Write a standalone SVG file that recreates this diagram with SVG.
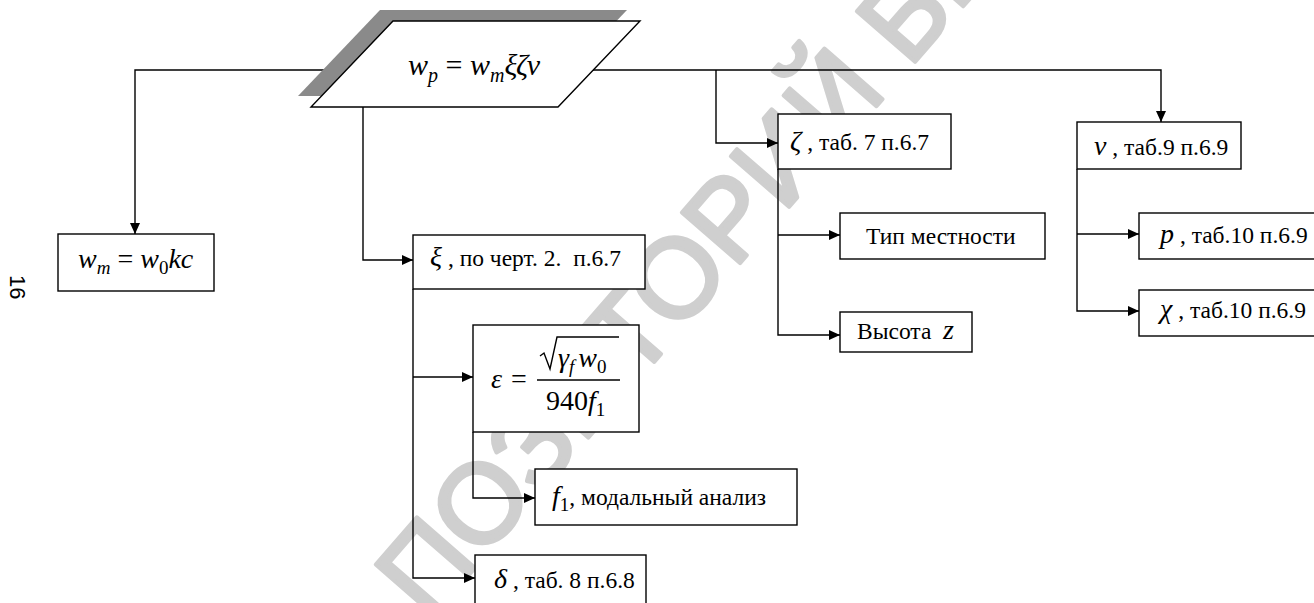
<svg xmlns="http://www.w3.org/2000/svg" width="1314" height="603" viewBox="0 0 1314 603">
<style>
.box{fill:#fff;stroke:#000;stroke-width:1.4}
.ln{fill:none;stroke:#000;stroke-width:1.4}
.t{font-family:"Liberation Serif","Times New Roman",Tinos,Times,"DejaVu Serif",serif;font-size:23.5px;fill:#000}
.m{font-family:"Liberation Serif","Times New Roman",Tinos,Times,"DejaVu Serif",serif;font-size:28px;font-style:italic;fill:#000}
.wm{font-family:"Liberation Sans",Arial,sans-serif;font-size:112px;fill:#cfcfcf;stroke:#cfcfcf;stroke-width:4;stroke-linejoin:round}
</style>
<defs>
<marker id="ar" markerUnits="userSpaceOnUse" markerWidth="12" markerHeight="10" refX="11" refY="5" orient="auto">
<path d="M0,0 L11,5 L0,10 z" fill="#000"/>
</marker>
</defs>
<rect width="1314" height="603" fill="#fff"/>
<text class="wm" transform="translate(428,622) rotate(-49)">ПОЗИТОРИЙ БГ</text>
<text transform="translate(10,275) rotate(90)" font-family="Liberation Sans,Arial,sans-serif" font-size="22" fill="#000">16</text>
<g id="connectors">
<path class="ln" d="M346,70 H135 V234" marker-end="url(#ar)"/>
<path class="ln" d="M593,70 H1161 V122" marker-end="url(#ar)"/>
<path class="ln" d="M716,70 V143 H778" marker-end="url(#ar)"/>
<path class="ln" d="M363,107 V260 H413" marker-end="url(#ar)"/>
<path class="ln" d="M413,289 V578 H475" marker-end="url(#ar)"/>
<path class="ln" d="M413,377 H473" marker-end="url(#ar)"/>
<path class="ln" d="M473,432 V498 H535" marker-end="url(#ar)"/>
<path class="ln" d="M778,169 V335 H840" marker-end="url(#ar)"/>
<path class="ln" d="M778,235 H840" marker-end="url(#ar)"/>
<path class="ln" d="M1077,169 V311 H1139" marker-end="url(#ar)"/>
<path class="ln" d="M1077,234 H1139" marker-end="url(#ar)"/>
</g>
<g id="n-wp">
<polygon points="380,10 627,10 545,96 298,96" fill="#8a8a8a"/>
<polygon class="box" points="393,21 640,21 558,107 311,107"/>
<text class="m" x="408" y="75" style="font-size:30px">w<tspan font-size="20" dy="7">p</tspan><tspan dy="-7" font-style="normal"> = </tspan>w<tspan font-size="20" dy="7">m</tspan><tspan dy="-7">ξζν</tspan></text>
</g>
<g id="n-wm">
<rect class="box" x="58" y="234" width="156" height="57"/>
<text class="m" x="78" y="268">w<tspan font-size="19" dy="6">m</tspan><tspan dy="-6" font-style="normal"> = </tspan>w<tspan font-size="19" dy="6" font-style="normal">0</tspan><tspan dy="-6">kc</tspan></text>
</g>
<g id="n-xi">
<rect class="box" x="413" y="235" width="232" height="54"/>
<text class="t" x="430" y="266"><tspan class="m">ξ</tspan> , по черт. 2.&#160; п.6.7</text>
</g>
<g id="n-eps">
<rect class="box" x="473" y="325" width="166" height="107"/>
<text class="m" x="491" y="388">ε</text>
<text class="t" x="511" y="388" style="font-size:28px">=</text>
<polyline class="ln" points="540,356 544,353 550,369 557,337 619,337"/>
<text class="m" x="558" y="367">γ<tspan font-size="19" dy="6">f</tspan><tspan dy="-6" dx="4">w</tspan><tspan font-size="19" dy="6" font-style="normal">0</tspan></text>
<line class="ln" x1="537" y1="380" x2="620" y2="380"/>
<text class="t" x="546" y="410" style="font-size:28px">940<tspan class="m">f</tspan><tspan font-size="19" dy="6">1</tspan></text>
</g>
<g id="n-f1">
<rect class="box" x="535" y="469" width="262" height="56"/>
<text class="t" x="552" y="505"><tspan class="m">f</tspan><tspan font-size="19" dy="6">1</tspan><tspan dy="-6">, модальный анализ</tspan></text>
</g>
<g id="n-delta">
<rect class="box" x="475" y="555" width="171" height="60"/>
<text class="t" x="494" y="588"><tspan class="m">δ</tspan> , таб. 8 п.6.8</text>
</g>
<g id="n-zeta">
<rect class="box" x="778" y="114" width="173" height="55"/>
<text class="t" x="790" y="150"><tspan class="m">ζ</tspan> , таб. 7 п.6.7</text>
</g>
<g id="n-terrain">
<rect class="box" x="840" y="213" width="205" height="46"/>
<text class="t" x="866" y="244">Тип местности</text>
</g>
<g id="n-height">
<rect class="box" x="840" y="312" width="132" height="40"/>
<text class="t" x="857" y="339">Высота&#160; <tspan class="m">z</tspan></text>
</g>
<g id="n-nu">
<rect class="box" x="1077" y="122" width="164" height="47"/>
<text class="t" x="1094" y="155"><tspan class="m">ν</tspan> , таб.9 п.6.9</text>
</g>
<g id="n-p">
<rect class="box" x="1139" y="213" width="180" height="46"/>
<text class="t" x="1160" y="243"><tspan class="m">p</tspan> , таб.10 п.6.9</text>
</g>
<g id="n-chi">
<rect class="box" x="1139" y="290" width="180" height="46"/>
<text class="t" x="1160" y="318"><tspan class="m">χ</tspan> , таб.10 п.6.9</text>
</g>
</svg>
